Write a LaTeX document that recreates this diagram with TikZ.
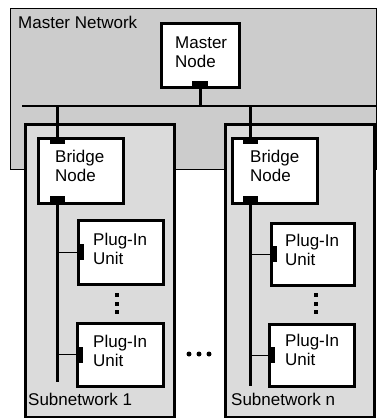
\documentclass[tikz,border=0pt]{standalone}
\usepackage{fontspec}
\setmainfont{Liberation Sans}
\begin{document}
\begin{tikzpicture}[x=1pt,y=-1pt,
  region/.style={draw=black, line width=1.2pt, fill=black!20, inner sep=0pt, anchor=north west},
  subnet/.style={draw=black, line width=2.6pt, fill=black!14, inner sep=0pt, anchor=north west},
  unitbox/.style={draw=black, line width=2.6pt, fill=white, inner sep=0pt, anchor=north west},
  port/.style={fill=black, draw=none, inner sep=0pt},
  lbl/.style={font=\fontsize{17}{19}\selectfont, align=left, inner sep=0pt, anchor=north west},
  busline/.style={line width=1.6pt},
  dropline/.style={line width=2.6pt},
  link/.style={line width=1.3pt},
  vdot/.style={fill=black, draw=none, inner sep=0pt, minimum size=4pt},
  hdot/.style={fill=black, draw=none, inner sep=0pt, circle, minimum size=5pt},
]
\useasboundingbox (0,0) rectangle (377,418);
\fill[white] (0,0) rectangle (377,418);

% master network region
\node[region, minimum width=366pt, minimum height=161pt] (master) at (10,8) {};
\node[lbl] (masterlbl) at (18,16) {Master Network};

% subnetworks
\node[subnet, minimum width=149pt, minimum height=293pt] (sub1) at (24,123) {};
\node[subnet, minimum width=149pt, minimum height=293pt] (subn) at (224,123) {};
\node[lbl] (sub1lbl) at (28,393) {Subnetwork 1};
\node[lbl] (subnlbl) at (231,393) {Subnetwork n};

% bus
\coordinate (busL) at (22,106);
\coordinate (busR) at (376,106);
\draw[busline] (busL) -- (busR);

% master node
\node[unitbox, minimum width=78pt, minimum height=64pt] (mn) at (160,22) {};
\node[lbl] (mnlbl) at (175,37) {Master\\Node};
\node[port, minimum width=16pt, minimum height=7pt, anchor=south] (mnport) at (mn.south) {};
\draw[dropline] (mnport.south) -- (mnport.south |- busL);

% bridge nodes
\node[unitbox, minimum width=85pt, minimum height=65pt] (br1) at (37,137) {};
\node[lbl] (br1lbl) at (55,150) {Bridge\\Node};
\node[port, minimum width=15pt, minimum height=7pt, anchor=north] (br1top) at ([xshift=20.5pt]br1.north west) {};
\node[port, minimum width=15pt, minimum height=8pt, anchor=south] (br1bot) at ([xshift=20.5pt]br1.south west) {};

\node[unitbox, minimum width=85pt, minimum height=65pt] (brn) at (231,137) {};
\node[lbl] (brnlbl) at (250,150) {Bridge\\Node};
\node[port, minimum width=15pt, minimum height=7pt, anchor=north] (brntop) at ([xshift=19.5pt]brn.north west) {};
\node[port, minimum width=15pt, minimum height=8pt, anchor=south] (brnbot) at ([xshift=19.5pt]brn.south west) {};

\draw[dropline] (br1top.north) -- (br1top.north |- busL);
\draw[dropline] (brntop.north) -- (brntop.north |- busL);

% sub-buses
\coordinate (sb1end) at (57.5,382);
\coordinate (sbnend) at (250.5,386);
\draw[dropline] (br1bot.south) -- (sb1end);
\draw[dropline] (brnbot.south) -- (sbnend);

% plug-in units, subnetwork 1
\node[unitbox, minimum width=85pt, minimum height=64pt] (p1a) at (77,219) {};
\node[lbl] (p1albl) at (93,233) {Plug-In\\Unit};
\node[port, minimum width=7pt, minimum height=16pt, anchor=west] (p1aport) at (p1a.west) {};
\node[unitbox, minimum width=86pt, minimum height=63pt] (p1b) at (76,322) {};
\node[lbl] (p1blbl) at (93,335) {Plug-In\\Unit};
\node[port, minimum width=7pt, minimum height=16pt, anchor=west] (p1bport) at (p1b.west) {};
\draw[link] (p1aport.west) -- (p1aport.west -| sb1end);
\draw[link] (p1bport.west) -- (p1bport.west -| sb1end);
\node[vdot] (d1a) at (117,295) {};
\node[vdot] (d1b) at (117,303.5) {};
\node[vdot] (d1c) at (117,312) {};

% plug-in units, subnetwork n
\node[unitbox, minimum width=83pt, minimum height=62pt] (pna) at (270,222) {};
\node[lbl] (pnalbl) at (285,234) {Plug-In\\Unit};
\node[port, minimum width=7pt, minimum height=16pt, anchor=west] (pnaport) at (pna.west) {};
\node[unitbox, minimum width=85pt, minimum height=62pt] (pnb) at (268,323) {};
\node[lbl] (pnblbl) at (285,334) {Plug-In\\Unit};
\node[port, minimum width=7pt, minimum height=16pt, anchor=west] (pnbport) at (pnb.west) {};
\draw[link] (pnaport.west) -- (pnaport.west -| sbnend);
\draw[link] (pnbport.west) -- (pnbport.west -| sbnend);
\node[vdot] (dna) at (316,295) {};
\node[vdot] (dnb) at (316,303.5) {};
\node[vdot] (dnc) at (316,312) {};

% dots between subnetworks
\node[hdot] (h1) at (189,354) {};
\node[hdot] (h2) at (199,354) {};
\node[hdot] (h3) at (209,354) {};
\end{tikzpicture}
\end{document}
